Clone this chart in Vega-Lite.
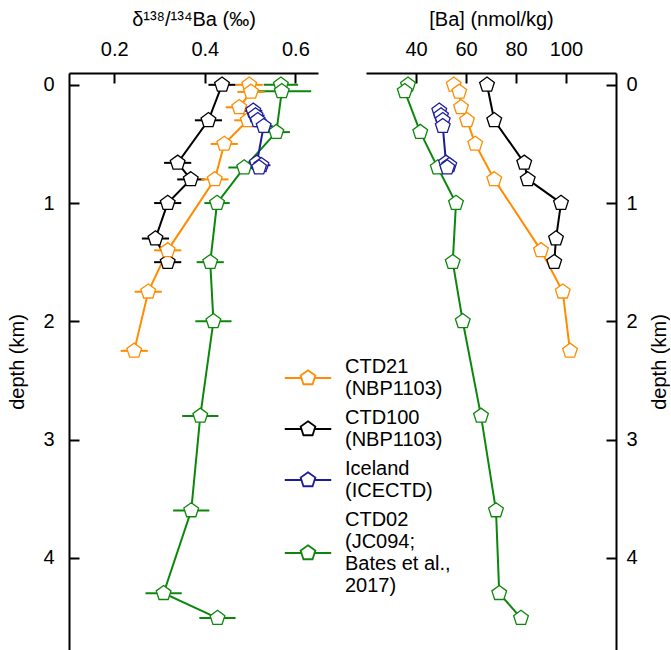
{
  "$schema": "https://vega.github.io/schema/vega-lite/v6.json",
  "background": "white",
  "padding": {"left": 7, "top": 9, "right": 0, "bottom": 0},
  "spacing": 48,
  "config": {
    "view": {"stroke": null},
    "font": "Liberation Sans",
    "axis": {"domainColor": "black", "domainWidth": 2, "tickColor": "black", "tickWidth": 2, "labelColor": "black", "titleColor": "black", "labelFontSize": 20, "titleFontSize": 20, "titleFontWeight": "normal", "grid": false, "labelFont": "Liberation Sans", "titleFont": "Liberation Sans"},
    "style": {"guide-label": {"lineHeight": 22}}
  },
  "datasets": {
    "profiles": [
      {"series": "CTD02", "depth": 0.0, "d138": 0.568, "lo": 0.530, "hi": 0.606, "ba": 36.8},
      {"series": "CTD02", "depth": 0.055, "d138": 0.570, "lo": 0.515, "hi": 0.635, "ba": 35.5},
      {"series": "CTD02", "depth": 0.40, "d138": 0.558, "lo": 0.528, "hi": 0.588, "ba": 41.7},
      {"series": "CTD02", "depth": 0.70, "d138": 0.487, "lo": 0.452, "hi": 0.522, "ba": 48.7},
      {"series": "CTD02", "depth": 1.00, "d138": 0.427, "lo": 0.399, "hi": 0.455, "ba": 56.0},
      {"series": "CTD02", "depth": 1.50, "d138": 0.412, "lo": 0.382, "hi": 0.442, "ba": 54.7},
      {"series": "CTD02", "depth": 2.00, "d138": 0.419, "lo": 0.379, "hi": 0.459, "ba": 58.7},
      {"series": "CTD02", "depth": 2.80, "d138": 0.390, "lo": 0.350, "hi": 0.430, "ba": 66.0},
      {"series": "CTD02", "depth": 3.60, "d138": 0.370, "lo": 0.330, "hi": 0.410, "ba": 72.0},
      {"series": "CTD02", "depth": 4.30, "d138": 0.309, "lo": 0.269, "hi": 0.349, "ba": 73.3},
      {"series": "CTD02", "depth": 4.51, "d138": 0.428, "lo": 0.388, "hi": 0.468, "ba": 82.0},
      {"series": "CTD100", "depth": 0.00, "d138": 0.438, "lo": 0.408, "hi": 0.468, "ba": 68.4},
      {"series": "CTD100", "depth": 0.30, "d138": 0.408, "lo": 0.378, "hi": 0.438, "ba": 71.3},
      {"series": "CTD100", "depth": 0.66, "d138": 0.340, "lo": 0.310, "hi": 0.370, "ba": 83.3},
      {"series": "CTD100", "depth": 0.80, "d138": 0.369, "lo": 0.339, "hi": 0.399, "ba": 84.7},
      {"series": "CTD100", "depth": 1.00, "d138": 0.318, "lo": 0.288, "hi": 0.348, "ba": 98.0},
      {"series": "CTD100", "depth": 1.30, "d138": 0.291, "lo": 0.261, "hi": 0.321, "ba": 96.0},
      {"series": "CTD100", "depth": 1.50, "d138": 0.318, "lo": 0.288, "hi": 0.348, "ba": 95.3},
      {"series": "CTD21", "depth": 0.00, "d138": 0.498, "lo": 0.468, "hi": 0.528, "ba": 55.1},
      {"series": "CTD21", "depth": 0.06, "d138": 0.502, "lo": 0.472, "hi": 0.532, "ba": 57.3},
      {"series": "CTD21", "depth": 0.19, "d138": 0.476, "lo": 0.446, "hi": 0.506, "ba": 58.0},
      {"series": "CTD21", "depth": 0.30, "d138": 0.495, "lo": 0.465, "hi": 0.525, "ba": 60.4},
      {"series": "CTD21", "depth": 0.50, "d138": 0.443, "lo": 0.413, "hi": 0.473, "ba": 63.7},
      {"series": "CTD21", "depth": 0.80, "d138": 0.422, "lo": 0.392, "hi": 0.452, "ba": 71.3},
      {"series": "CTD21", "depth": 1.40, "d138": 0.318, "lo": 0.288, "hi": 0.348, "ba": 90.0},
      {"series": "CTD21", "depth": 1.75, "d138": 0.275, "lo": 0.245, "hi": 0.305, "ba": 98.7},
      {"series": "CTD21", "depth": 2.25, "d138": 0.244, "lo": 0.214, "hi": 0.274, "ba": 101.6},
      {"series": "Iceland", "depth": 0.22, "d138": 0.507, "lo": 0.487, "hi": 0.527, "ba": 49.3},
      {"series": "Iceland", "depth": 0.26, "d138": 0.512, "lo": 0.492, "hi": 0.532, "ba": 50.0},
      {"series": "Iceland", "depth": 0.30, "d138": 0.517, "lo": 0.497, "hi": 0.537, "ba": 50.7},
      {"series": "Iceland", "depth": 0.35, "d138": 0.530, "lo": 0.510, "hi": 0.550, "ba": 50.7},
      {"series": "Iceland", "depth": 0.66, "d138": 0.515, "lo": 0.495, "hi": 0.535, "ba": 52.0},
      {"series": "Iceland", "depth": 0.68, "d138": 0.525, "lo": 0.505, "hi": 0.545, "ba": 53.3},
      {"series": "Iceland", "depth": 0.70, "d138": 0.520, "lo": 0.500, "hi": 0.540, "ba": 52.5}
    ]
  },
  "hconcat": [
    {
      "width": 249,
      "height": 577,
      "data": {"name": "profiles"},
      "layer": [
        {
          "mark": {"type": "rule", "strokeWidth": 2},
          "encoding": {
            "x": {"field": "lo", "type": "quantitative", "scale": {"domain": [0.1, 0.65], "nice": false, "zero": false},
              "axis": {"orient": "top", "values": [0.2, 0.4, 0.6], "format": ".1f", "tickSize": -10, "labelPadding": 24, "titlePadding": 10, "title": "δ¹³⁸/¹³⁴Ba (‰)"}},
            "x2": {"field": "hi"},
            "y": {"field": "depth", "type": "quantitative", "scale": {"domain": [-0.1, 4.78], "nice": false, "reverse": true, "zero": false},
              "axis": {"orient": "left", "values": [0, 1, 2, 3, 4], "format": "d", "tickSize": -10, "labelPadding": 25, "titlePadding": 15, "title": "depth (km)"}},
            "stroke": {"field": "series", "type": "nominal", "scale": {"domain": ["CTD21", "CTD100", "Iceland", "CTD02"], "range": ["#ff8c00", "#000000", "#1c1c9c", "#0c870c"]}}
          }
        },
        {
          "mark": {"type": "line", "strokeWidth": 2},
          "encoding": {
            "x": {"field": "d138", "type": "quantitative"},
            "y": {"field": "depth", "type": "quantitative"},
            "order": {"field": "depth", "type": "quantitative"},
            "stroke": {"field": "series", "type": "nominal"}
          }
        },
        {
          "mark": {"type": "point", "shape": "M0,-1L0.951,-0.309L0.588,0.809L-0.588,0.809L-0.951,-0.309Z", "size": 240, "fill": "white", "fillOpacity": 1, "strokeWidth": 1.3, "opacity": 1},
          "encoding": {
            "x": {"field": "d138", "type": "quantitative"},
            "y": {"field": "depth", "type": "quantitative"},
            "stroke": {"field": "series", "type": "nominal",
              "legend": {"orient": "none", "legendX": 229, "legendY": 284, "title": null, "padding": 0,
                "symbolSize": 240, "symbolStrokeWidth": 1.8, "symbolFillColor": "white", "symbolOpacity": 1,
                "labelFontSize": 20, "labelColor": "black", "labelOffset": 27, "rowPadding": 9, "labelLimit": 220,
                "labelExpr": "datum.label == 'CTD21' ? ['CTD21', '(NBP1103)'] : datum.label == 'CTD100' ? ['CTD100', '(NBP1103)'] : datum.label == 'Iceland' ? ['Iceland', '(ICECTD)'] : ['CTD02', '(JC094;', 'Bates et al.,', '2017)']"}}
          }
        },
        {
          "mark": {"type": "point", "size": 240, "fill": "white", "opacity": 0},
          "encoding": {
            "x": {"field": "d138", "type": "quantitative"},
            "y": {"field": "depth", "type": "quantitative"},
            "shape": {"field": "series", "type": "nominal",
              "scale": {"domain": ["CTD21", "CTD100", "Iceland", "CTD02"], "range": [
                "M-3,1.42H-0.85M0.85,1.42H3M0,0.42L0.951,1.111L0.588,2.229L-0.588,2.229L-0.951,1.111Z",
                "M-3,1.42H-0.85M0.85,1.42H3M0,0.42L0.951,1.111L0.588,2.229L-0.588,2.229L-0.951,1.111Z",
                "M-3,1.42H-0.85M0.85,1.42H3M0,0.42L0.951,1.111L0.588,2.229L-0.588,2.229L-0.951,1.111Z",
                "M-3,4.26H-0.85M0.85,4.26H3M0,3.26L0.951,3.951L0.588,5.069L-0.588,5.069L-0.951,3.951Z"]},
              "legend": {"orient": "none", "legendX": 229, "legendY": 284, "title": null, "padding": 0,
                "symbolSize": 240, "symbolStrokeWidth": 1.8, "symbolFillColor": "white", "symbolOpacity": 1,
                "labelFontSize": 20, "labelColor": "black", "labelOffset": 27, "rowPadding": 9, "labelLimit": 220,
                "labelExpr": "datum.label == 'CTD21' ? ['CTD21', '(NBP1103)'] : datum.label == 'CTD100' ? ['CTD100', '(NBP1103)'] : datum.label == 'Iceland' ? ['Iceland', '(ICECTD)'] : ['CTD02', '(JC094;', 'Bates et al.,', '2017)']"}}
          }
        }
      ]
    },
    {
      "width": 250,
      "height": 577,
      "data": {"name": "profiles"},
      "layer": [
        {
          "mark": {"type": "line", "strokeWidth": 2},
          "encoding": {
            "x": {"field": "ba", "type": "quantitative", "scale": {"domain": [20, 120], "nice": false, "zero": false},
              "axis": {"orient": "top", "values": [40, 60, 80, 100], "tickSize": -10, "labelPadding": 24, "titlePadding": 10, "title": "[Ba] (nmol/kg)"}},
            "y": {"field": "depth", "type": "quantitative", "scale": {"domain": [-0.1, 4.78], "nice": false, "reverse": true, "zero": false},
              "axis": {"orient": "right", "values": [0, 1, 2, 3, 4], "format": "d", "tickSize": -10, "labelPadding": 20, "titlePadding": 32, "titleAngle": 270, "title": "depth (km)"}},
            "order": {"field": "depth", "type": "quantitative"},
            "stroke": {"field": "series", "type": "nominal"}
          }
        },
        {
          "mark": {"type": "point", "shape": "M0,-1L0.951,-0.309L0.588,0.809L-0.588,0.809L-0.951,-0.309Z", "size": 240, "fill": "white", "fillOpacity": 1, "strokeWidth": 1.3, "opacity": 1},
          "encoding": {
            "x": {"field": "ba", "type": "quantitative"},
            "y": {"field": "depth", "type": "quantitative"},
            "stroke": {"field": "series", "type": "nominal"}
          }
        }
      ]
    }
  ]
}
